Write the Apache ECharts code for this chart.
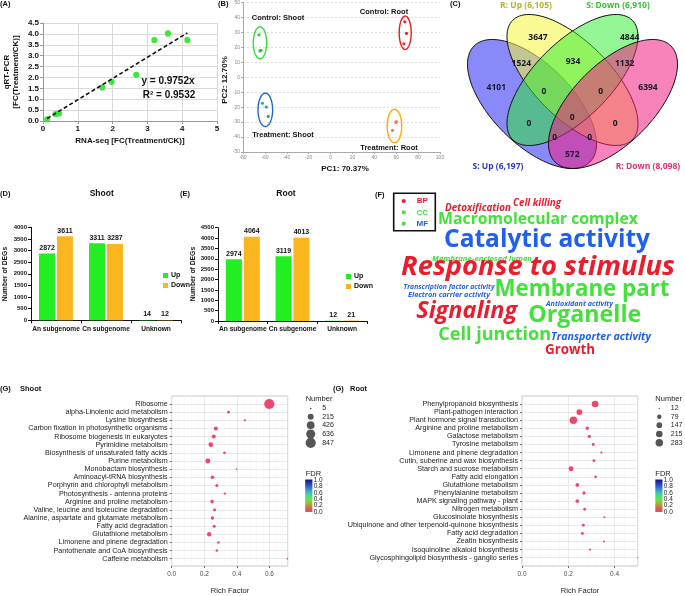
<!DOCTYPE html>
<html><head><meta charset="utf-8">
<script src="https://cdn.jsdelivr.net/npm/echarts@6/dist/echarts.min.js"></script>
<style>html,body{margin:0;padding:0;background:#fff;}#c{width:685px;height:596px;}</style>
</head><body><div id="c"></div>
<script>
// ================= DATA =================
// (A) qRT-PCR validation
const rnaSeqFC = [0.12, 0.36, 0.46, 1.70, 1.97, 2.68, 3.20, 3.59, 4.15];
const qrtPcrFC = [0.08, 0.32, 0.35, 1.54, 1.80, 2.12, 3.72, 4.02, 3.72];
const fitSlope = 0.9752;
const fitR2 = 0.9532;
// (B) PCA
const pcaGroups = ['Control: Shoot', 'Control: Root', 'Treatment: Shoot', 'Treatment: Root'];
const pcaPC1 = [[-65.4, -64.5, -63.6], [67.9, 69.4, 67.0], [-62.3, -58.7, -56.9], [59.7, 60.2, 56.6]];
const pcaPC2 = [[28.4, 17.7, 18.0], [37.1, 29.3, 22.4], [-17.4, -19.9, -26.2], [-30.2, -29.6, -35.6]];
const pcaAxisTitles = ['PC1: 70.37%', 'PC2: 12.70%'];
// (C) Venn
const vennSetNames = ['S: Up (6,197)', 'R: Up (6,105)', 'S: Down (6,910)', 'R: Down (8,098)'];
const vennRegionCounts = [3647, 4844, 1524, 934, 1132, 4101, 6394, 0, 0, 0, 0, 0, 0, 0, 572];
// (D)(E) DEGs by subgenome
const subgenomes = ['An subgenome', 'Cn subgenome', 'Unknown'];
const shootUp = [2872, 3311, 14];
const shootDown = [3611, 3287, 12];
const rootUp = [2974, 3119, 12];
const rootDown = [4064, 4013, 21];
// (F) GO word cloud
const goTerms = ['Detoxification', 'Cell killing', 'Macromolecular complex', 'Catalytic activity',
  'Membrane-enclosed lumen', 'Response to stimulus', 'Transcription factor activity',
  'Electron carrier activity', 'Membrane part', 'Antioxidant activity', 'Signaling', 'Organelle',
  'Cell junction', 'Transporter activity', 'Growth'];
const goOntology = ['BP', 'BP', 'CC', 'MF', 'CC', 'BP', 'MF', 'MF', 'CC', 'MF', 'BP', 'CC', 'CC', 'MF', 'BP'];
const goLegend = ['BP', 'CC', 'MF'];
// (G) KEGG enrichment
const shootPathways = ['Ribosome', 'alpha-Linolenic acid metabolism', 'Lysine biosynthesis',
  'Carbon fixation in photosynthetic organisms', 'Ribosome biogenesis in eukaryotes',
  'Pyrimidine metabolism', 'Biosynthesis of unsaturated fatty acids', 'Purine metabolism',
  'Monobactam biosynthesis', 'Aminoacyl-tRNA biosynthesis', 'Porphyrin and chlorophyll metabolism',
  'Photosynthesis - antenna proteins', 'Arginine and proline metabolism',
  'Valine, leucine and isoleucine degradation', 'Alanine, aspartate and glutamate metabolism',
  'Fatty acid degradation', 'Glutathione metabolism', 'Limonene and pinene degradation',
  'Pantothenate and CoA biosynthesis', 'Caffeine metabolism'];
const shootRichFactor = [0.599, 0.349, 0.449, 0.271, 0.258, 0.240, 0.324, 0.222, 0.398, 0.250,
  0.277, 0.326, 0.248, 0.263, 0.250, 0.261, 0.230, 0.287, 0.277, 0.71];
const shootGeneNumber = [847, 17, 8, 66, 66, 109, 17, 131, 5, 50, 25, 10, 50, 25, 36, 25, 86, 12, 12, 5];
const shootNumberBreaks = [5, 215, 426, 636, 847];
const rootPathways = ['Phenylpropanoid biosynthesis', 'Plant-pathogen interaction',
  'Plant hormone signal transduction', 'Arginine and proline metabolism', 'Galactose metabolism',
  'Tyrosine metabolism', 'Limonene and pinene degradation', 'Cutin, suberine and wax biosynthesis',
  'Starch and sucrose metabolism', 'Fatty acid elongation', 'Glutathione metabolism',
  'Phenylalanine metabolism', 'MAPK signaling pathway - plant', 'Nitrogen metabolism',
  'Glucosinolate biosynthesis', 'Ubiquinone and other terpenoid-quinone biosynthesis',
  'Fatty acid degradation', 'Zeatin biosynthesis', 'Isoquinoline alkaloid biosynthesis',
  'Glycosphingolipid biosynthesis - ganglio series'];
const rootRichFactor = [0.316, 0.248, 0.222, 0.282, 0.291, 0.308, 0.343, 0.311, 0.212, 0.318,
  0.239, 0.268, 0.239, 0.271, 0.356, 0.265, 0.261, 0.354, 0.294, 0.5];
const rootGeneNumber = [210, 162, 283, 40, 40, 32, 19, 32, 105, 26, 52, 40, 52, 32, 16, 32, 32, 16, 19, 12];
const rootNumberBreaks = [12, 79, 147, 215, 283];
const fdrBreaks = [1.0, 0.8, 0.6, 0.4, 0.2, 0.0];

// ================= STYLE / LAYOUT =================
const FONT = '"Liberation Sans", Arial, Helvetica, sans-serif';
const WC_FONT = '"Open Sans", "Noto Sans", sans-serif';
const pcaColors = ['#2ec44a', '#ee2244', '#1fae8a', '#f27a55'];
const pcaRingColors = ['#33dd33', '#ee1a1a', '#2266cc', '#ffaa00'];
const pcaRingRadii = [[6.7, 16], [6, 16.7], [7.3, 16.7], [7.3, 16.7]];
const pcaLabelPos = [[278, 17.7], [384, 11.7], [283, 134.7], [389, 147.7]];
const vennLabelPos = [[538, 37.7], [629.7, 37.7], [521.3, 63.3], [573, 61.7], [624.7, 63.3],
  [496.3, 87.3], [648, 87.3], [544, 91.7], [600.7, 91.7], [529, 123.3], [572.3, 117.7],
  [615.3, 123.3], [554.7, 137.7], [589.7, 137.7], [572.3, 155]];
const vennSetLabelPos = [[498, 167], [526, 6], [618, 6], [648, 167]];
const vennSetLabelColors = ['#2b35c8', '#b4b42a', '#35c035', '#e0306a'];
// screen-space ellipses: cx, cy, semi-major, semi-minor, angle (deg, clockwise), fill
const vennEllipses = [
  [532, 104, 82, 40, 45, 'rgba(40,40,245,0.55)'],
  [572.5, 80, 84.5, 38, 45, 'rgba(245,245,60,0.55)'],
  [572.5, 80, 84.5, 38, -45, 'rgba(40,235,40,0.5)'],
  [613, 104, 82, 40, -45, 'rgba(240,30,130,0.55)']
];
const ontoColors = {BP: '#ec1c2c', CC: '#44e03c', MF: '#1f5ff0'};
const goLegendDot = {BP: '#ec1c2c', CC: '#44e03c', MF: '#44e03c'};
// word layout: [centerX, centerY, targetWidth, italic]
const goLayout = [[478, 207.7, 66, 1], [537, 203.3, 48, 1], [538, 219.3, 200, 0], [547, 240, 206, 0],
  [482, 258.3, 100, 1], [538, 267.3, 274, 1], [449, 287.3, 91, 1], [449, 295, 82, 1],
  [582, 290, 175, 0], [579.5, 304, 67, 1], [466.7, 311.7, 101, 1], [584.7, 315, 113, 0],
  [494.7, 335, 113, 0], [601, 336.7, 100, 1], [570, 350, 50, 0]];
const dotColor = '#f0466e';

// ================= HELPERS =================
const mctx = document.createElement('canvas').getContext('2d');
function fitFont(text, width, italic, family) {
  mctx.font = (italic ? 'italic ' : '') + 'bold 100px ' + family;
  return 100 * width / mctx.measureText(text).width;
}
function txt(x, y, text, o) {
  o = o || {};
  return {type: 'text', x: x, y: y, rotation: o.rot || 0, z: 50, silent: true,
    style: {text: text, fill: o.color || '#111', fontSize: o.size || 8,
      fontWeight: o.weight || 'bold', fontStyle: o.italic ? 'italic' : 'normal',
      fontFamily: o.family || FONT, align: o.align || 'center', verticalAlign: o.va || 'middle'}};
}
function sizeFn(v, br, dmin, dmax) {
  const t = (v - br[0]) / (br[br.length - 1] - br[0]);
  return dmin + (dmax - dmin) * Math.sqrt(Math.max(0, t));
}
const shootSize = v => sizeFn(v, shootNumberBreaks, 1.7, 10.2);
const rootSize = v => sizeFn(v, rootNumberBreaks, 1.3, 7.5);

// ================= GRAPHICS =================
const gfx = [];
gfx.push(txt(0, 4, '(A)', {align: 'left', size: 7.5}));
gfx.push(txt(218, 4, '(B)', {align: 'left', size: 7.5}));
gfx.push(txt(450, 4, '(C)', {align: 'left', size: 7.5}));
gfx.push(txt(0, 194, '(D)', {align: 'left', size: 7.5}));
gfx.push(txt(180, 194, '(E)', {align: 'left', size: 7.5}));
gfx.push(txt(375, 194.5, '(F)', {align: 'left', size: 7.5}));
gfx.push(txt(0, 389, '(G)', {align: 'left', size: 7.5}));
gfx.push(txt(20, 389, 'Shoot', {align: 'left', size: 7.5}));
gfx.push(txt(333, 389, '(G)', {align: 'left', size: 7.5}));
gfx.push(txt(350, 389, 'Root', {align: 'left', size: 7.5}));
gfx.push(txt(101.7, 194, 'Shoot', {size: 8.5}));
gfx.push(txt(286, 194, 'Root', {size: 8.5}));
// (A)
gfx.push(txt(130, 141, 'RNA-seq [FC(Treatment/CK)]', {size: 8}));
gfx.push(txt(7, 72, 'qRT-PCR', {size: 8, rot: Math.PI / 2}));
gfx.push(txt(15.5, 72, '[FC(Treatment/CK)]', {size: 8, rot: Math.PI / 2}));
gfx.push(txt(168, 81, 'y = ' + fitSlope + 'x', {size: 10}));
gfx.push(txt(169, 95, 'R² = ' + fitR2, {size: 10}));
// (B)
gfx.push(txt(345, 169, pcaAxisTitles[0], {size: 8}));
gfx.push(txt(225, 80, pcaAxisTitles[1], {size: 8, rot: Math.PI / 2}));
pcaGroups.forEach((g, i) => gfx.push(txt(pcaLabelPos[i][0], pcaLabelPos[i][1], g, {size: 7.5})));
// (C) Venn
vennEllipses.forEach(e => {
  const [cx, cy, A, B, ang, col] = e;
  const th = ang * Math.PI / 180, pts = [];
  for (let k = 0; k < 120; k++) {
    const t = k / 120 * 2 * Math.PI;
    const u = A * Math.cos(t), w = B * Math.sin(t);
    pts.push([cx + u * Math.cos(th) - w * Math.sin(th), cy + u * Math.sin(th) + w * Math.cos(th)]);
  }
  gfx.push({type: 'polygon', z: 10, silent: true, shape: {points: pts},
    style: {fill: col, stroke: '#111', lineWidth: 1}});
});
vennRegionCounts.forEach((n, i) => gfx.push(txt(vennLabelPos[i][0], vennLabelPos[i][1], String(n),
  {size: 8.5, color: '#15152e', family: WC_FONT})));
vennSetNames.forEach((s, i) => gfx.push(txt(vennSetLabelPos[i][0], vennSetLabelPos[i][1], s,
  {size: 8.5, color: vennSetLabelColors[i], family: WC_FONT})));
// (D)(E) y titles
gfx.push(txt(5.5, 274, 'Number of DEGs', {size: 6.8, rot: Math.PI / 2}));
gfx.push(txt(193.5, 274, 'Number of DEGs', {size: 6.8, rot: Math.PI / 2}));
// (F) legend box
gfx.push({type: 'rect', z: 20, silent: true, shape: {x: 393.7, y: 193.3, width: 41.6, height: 37.4},
  style: {fill: '#fff', stroke: '#111', lineWidth: 1.6}});
goLegend.forEach((o, i) => {
  gfx.push({type: 'circle', z: 21, silent: true, shape: {cx: 403.7, cy: 201 + i * 11.35, r: 2.1},
    style: {fill: goLegendDot[o]}});
  gfx.push(txt(422.3, 201 + i * 11.35, o, {size: 8, color: ontoColors[o]}));
});
// (F) word cloud
goTerms.forEach((w, i) => {
  const L = goLayout[i];
  const fs = fitFont(w, L[2], L[3], WC_FONT);
  gfx.push(txt(L[0], L[1], w, {size: fs, italic: !!L[3], color: ontoColors[goOntology[i]], family: WC_FONT}));
});
// (G)
gfx.push(txt(230, 591, 'Rich Factor', {size: 7.5, weight: 'normal', color: '#222'}));
gfx.push(txt(580, 591, 'Rich Factor', {size: 7.5, weight: 'normal', color: '#222'}));
function kegLegend(x0, numX, breaks, sz, fdrX) {
  gfx.push(txt(x0, 398.5, 'Number', {size: 7.5, weight: 'normal', align: 'left', color: '#222'}));
  const ys = [408.5, 416.8, 425.2, 434, 442.8];
  breaks.forEach((b, i) => {
    gfx.push({type: 'circle', z: 20, silent: true, shape: {cx: numX, cy: ys[i], r: sz(b) / 2},
      style: {fill: '#555'}});
    gfx.push(txt(numX + 11.5, ys[i], String(b), {size: 7, weight: 'normal', align: 'left', color: '#222'}));
  });
  gfx.push(txt(x0, 474, 'FDR', {size: 7.5, weight: 'normal', align: 'left', color: '#222'}));
  gfx.push({type: 'rect', z: 20, silent: true, shape: {x: fdrX, y: 479.5, width: 7.2, height: 32.5},
    style: {fill: {type: 'linear', x: 0, y: 0, x2: 0, y2: 1, colorStops: [
      {offset: 0, color: '#151575'}, {offset: 0.18, color: '#2f4fd0'}, {offset: 0.38, color: '#3fb5c8'},
      {offset: 0.5, color: '#45e07a'}, {offset: 0.62, color: '#6be04a'}, {offset: 0.74, color: '#a8b030'},
      {offset: 0.84, color: '#c08040'}, {offset: 0.93, color: '#e05060'}, {offset: 1, color: '#f0486e'}]}}});
  fdrBreaks.forEach((f, i) => gfx.push(txt(fdrX + 8.5, 480 + i * 6.4, f.toFixed(1),
    {size: 6.5, weight: 'normal', align: 'left', color: '#222'})));
}
kegLegend(305.7, 310.7, shootNumberBreaks, shootSize, 305.2);
kegLegend(655.3, 659.3, rootNumberBreaks, rootSize, 655.3);

// ================= CHART =================
const chart = echarts.init(document.getElementById('c'), null, {renderer: 'canvas'});
const lab = (sz, col, bold) => ({fontSize: sz, color: col, fontWeight: bold ? 'bold' : 'normal', fontFamily: FONT});
const minX = Math.min(...rnaSeqFC), maxX = Math.max(...rnaSeqFC);

function keggGridAxes(gBg, gData, max) {
  return {
    x: [
      {gridIndex: gBg, type: 'value', min: 0, max: max, interval: 0.2,
        axisLine: {show: false}, axisTick: {show: true, length: 2, lineStyle: {color: '#666'}},
        axisLabel: {...lab(6.5, '#4d4d4d'), margin: 5, showMaxLabel: false, formatter: v => v.toFixed(1)},
        splitLine: {show: true, lineStyle: {color: '#e3e3e3', width: 0.8}},
        minorTick: {show: false}, minorSplitLine: {show: true, lineStyle: {color: '#f2f2f2', width: 0.5}}},
      {gridIndex: gData, type: 'value', min: 0, max: max, show: false}
    ],
    y: [
      {gridIndex: gBg, type: 'value', min: 0, max: 1, show: false},
      {gridIndex: gData, type: 'category', inverse: true, boundaryGap: false, data: null,
        axisLine: {show: false}, axisTick: {show: true, length: 2, lineStyle: {color: '#666'}},
        axisLabel: {...lab(7.2, '#222'), margin: 4, interval: 0},
        splitLine: {show: true, lineStyle: {color: '#e3e3e3', width: 0.8}}}
    ]
  };
}
const gs = keggGridAxes(4, 5, 0.712);
gs.y[1].data = shootPathways;
const gr = keggGridAxes(6, 7, 0.5);
gr.y[1].data = rootPathways;
const plain = v => String(v);

const option = {
  animation: false,
  backgroundColor: '#fff',
  textStyle: {fontFamily: FONT},
  grid: [
    {left: 43, top: 23, width: 174, height: 98},
    {left: 243, top: 2.5, width: 197, height: 149.5},
    {left: 31, top: 227.3, width: 150, height: 93},
    {left: 218, top: 227.7, width: 149, height: 93.3},
    {left: 171.7, top: 396, width: 116, height: 170, show: true, borderColor: '#b8b8b8', borderWidth: 0.8},
    {left: 171.7, top: 404, width: 116, height: 154.7},
    {left: 522, top: 396, width: 115.7, height: 170, show: true, borderColor: '#b8b8b8', borderWidth: 0.8},
    {left: 522, top: 404, width: 115.7, height: 153.7}
  ],
  xAxis: [
    {gridIndex: 0, type: 'value', min: 0, max: 5, interval: 1,
      axisLine: {show: true, onZero: false, lineStyle: {color: '#999'}},
      axisTick: {show: true, length: 3, lineStyle: {color: '#999'}},
      axisLabel: {...lab(8, '#111', true), margin: 4},
      splitLine: {show: true, lineStyle: {color: '#d9d9d9'}}},
    {gridIndex: 1, type: 'value', min: -80, max: 100, interval: 20,
      axisLine: {show: true, onZero: false, lineStyle: {color: '#aaa'}},
      axisTick: {show: true, length: 2, lineStyle: {color: '#aaa'}},
      axisLabel: {...lab(5, '#888'), margin: 3},
      splitLine: {show: false}},
    {gridIndex: 2, type: 'category', data: subgenomes,
      axisLine: {show: true, lineStyle: {color: '#111', width: 1}},
      axisTick: {show: true, length: 3, lineStyle: {color: '#111'}},
      axisLabel: {...lab(6.6, '#111', true), margin: 5, interval: 0}},
    {gridIndex: 3, type: 'category', data: subgenomes,
      axisLine: {show: true, lineStyle: {color: '#111', width: 1}},
      axisTick: {show: true, length: 3, lineStyle: {color: '#111'}},
      axisLabel: {...lab(6.6, '#111', true), margin: 5, interval: 0}},
    ...gs.x, ...gr.x
  ],
  yAxis: [
    {gridIndex: 0, type: 'value', min: 0, max: 4.5, interval: 0.5,
      axisLine: {show: true, lineStyle: {color: '#999'}},
      axisTick: {show: true, length: 3, lineStyle: {color: '#999'}},
      axisLabel: {...lab(8, '#111', true), margin: 4, formatter: v => v.toFixed(1)},
      splitLine: {show: true, lineStyle: {color: '#d9d9d9'}}},
    {gridIndex: 1, type: 'value', min: -50, max: 50, interval: 10,
      axisLine: {show: true, onZero: false, lineStyle: {color: '#aaa'}},
      axisTick: {show: true, length: 2, lineStyle: {color: '#aaa'}},
      axisLabel: {...lab(5, '#888'), margin: 3},
      splitLine: {show: true, lineStyle: {color: '#dcdcdc', type: [2, 2]}}},
    {gridIndex: 2, type: 'value', min: 0, max: 4000, interval: 500,
      axisLine: {show: true, lineStyle: {color: '#111'}},
      axisTick: {show: true, length: 3, lineStyle: {color: '#111'}},
      axisLabel: {...lab(6, '#111', true), margin: 4, formatter: plain}, splitLine: {show: false}},
    {gridIndex: 3, type: 'value', min: 0, max: 4500, interval: 500,
      axisLine: {show: true, lineStyle: {color: '#111'}},
      axisTick: {show: true, length: 3, lineStyle: {color: '#111'}},
      axisLabel: {...lab(6, '#111', true), margin: 4, formatter: plain}, splitLine: {show: false}},
    ...gs.y, ...gr.y
  ],
  legend: [
    {data: ['Up', 'Down'], orient: 'vertical', left: 158, top: 267, itemWidth: 5, itemHeight: 5, itemGap: 3,
      icon: 'rect', selectedMode: false, textStyle: {...lab(7, '#111', true), padding: [0, 0, 0, -2]}},
    {data: ['Up', 'Down'], orient: 'vertical', left: 341, top: 268, itemWidth: 5, itemHeight: 5, itemGap: 3,
      icon: 'rect', selectedMode: false, textStyle: {...lab(7, '#111', true), padding: [0, 0, 0, -2]}}
  ],
  series: [
    {type: 'line', xAxisIndex: 0, yAxisIndex: 0, data: [[minX, fitSlope * minX], [maxX, fitSlope * maxX]],
      symbol: 'none', lineStyle: {color: '#111', width: 1.6, type: [4, 2.5]}, z: 3, silent: true},
    {type: 'scatter', xAxisIndex: 0, yAxisIndex: 0, data: rnaSeqFC.map((x, i) => [x, qrtPcrFC[i]]),
      symbolSize: 6.2, itemStyle: {color: '#3ae83a', opacity: 1}, z: 2, silent: true},
    ...pcaGroups.map((g, i) => ({type: 'scatter', name: g, xAxisIndex: 1, yAxisIndex: 1,
      data: pcaPC1[i].map((x, j) => [x, pcaPC2[i][j]]), symbolSize: 3.2,
      itemStyle: {color: pcaColors[i], opacity: 1}, silent: true})),
    {type: 'custom', xAxisIndex: 1, yAxisIndex: 1, silent: true, z: 5,
      data: pcaGroups.map((g, i) => [i, 0]),
      renderItem: (params, api) => {
        const i = api.value(0);
        const pts = pcaPC1[i].map((x, j) => api.coord([x, pcaPC2[i][j]]));
        const xs = pts.map(p => p[0]), ys = pts.map(p => p[1]);
        const cx = (Math.min(...xs) + Math.max(...xs)) / 2, cy = (Math.min(...ys) + Math.max(...ys)) / 2;
        const [rx, ry] = pcaRingRadii[i];
        const poly = [];
        for (let k = 0; k < 60; k++) {
          const t = k / 60 * 2 * Math.PI;
          poly.push([cx + rx * Math.cos(t), cy + ry * Math.sin(t)]);
        }
        return {type: 'polygon', shape: {points: poly},
          style: {fill: 'none', stroke: pcaRingColors[i], lineWidth: 1.4}};
      }},
    {type: 'bar', name: 'Up', xAxisIndex: 2, yAxisIndex: 2, data: shootUp, barWidth: 16, barGap: '12%',
      itemStyle: {color: '#22ee22'}, label: {show: true, position: 'top', distance: 2, ...lab(7, '#111', true)}},
    {type: 'bar', name: 'Down', xAxisIndex: 2, yAxisIndex: 2, data: shootDown, barWidth: 16, barGap: '12%',
      itemStyle: {color: '#fbb61f'}, label: {show: true, position: 'top', distance: 2, ...lab(7, '#111', true)}},
    {type: 'bar', name: 'Up', xAxisIndex: 3, yAxisIndex: 3, data: rootUp, barWidth: 16, barGap: '12%',
      itemStyle: {color: '#22ee22'}, label: {show: true, position: 'top', distance: 2, ...lab(7, '#111', true)}},
    {type: 'bar', name: 'Down', xAxisIndex: 3, yAxisIndex: 3, data: rootDown, barWidth: 16, barGap: '12%',
      itemStyle: {color: '#fbb61f'}, label: {show: true, position: 'top', distance: 2, ...lab(7, '#111', true)}},
    {type: 'scatter', xAxisIndex: 5, yAxisIndex: 5, clip: false, silent: true,
      data: shootPathways.map((p, i) => [shootRichFactor[i], p, shootGeneNumber[i]]),
      symbolSize: v => shootSize(v[2]), itemStyle: {color: dotColor, opacity: 1}},
    {type: 'scatter', xAxisIndex: 7, yAxisIndex: 7, clip: false, silent: true,
      data: rootPathways.map((p, i) => [rootRichFactor[i], p, rootGeneNumber[i]]),
      symbolSize: v => rootSize(v[2]), itemStyle: {color: dotColor, opacity: 1}}
  ],
  graphic: {elements: gfx}
};
chart.setOption(option);
</script></body></html>
